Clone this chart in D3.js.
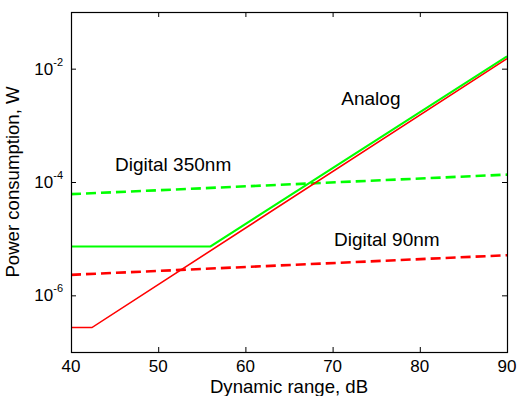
<!DOCTYPE html>
<html>
<head>
<meta charset="utf-8">
<script src="https://cdn.jsdelivr.net/npm/d3@7"></script>
<style>
  body { margin: 0; background: #fff; }
  svg { display: block; font-family: Arial, "Liberation Sans", sans-serif; }
</style>
</head>
<body>
<svg id="chart" width="518" height="396"></svg>
<script>
// data: [dynamic range dB, power W]
const analog350 = [[40, 7.3e-6], [56, 7.3e-6], [90, 1.65e-2]];
const analog90 = [[40, 2.7e-7], [42.4, 2.7e-7], [90, 1.5e-2]];
const digital350 = [[40, 6.1e-5], [90, 1.35e-4]];
const digital90 = [[40, 2.3e-6], [90, 5.1e-6]];
const xTicks = [40, 50, 60, 70, 80, 90];
const yTicks = [1e-6, 1e-4, 1e-2];

const margin = { top: 12, right: 11, bottom: 44, left: 71 };
const width = 518, height = 396;
const svg = d3.select('#chart');

const x = d3.scaleLinear().domain([40, 90]).range([margin.left, width - margin.right]);
const y = d3.scaleLog().domain([1e-7, 1e-1]).range([height - margin.bottom, margin.top]);

const line = d3.line().x((d) => x(d[0])).y((d) => y(d[1]));

// series
const series = [
  { data: digital350, color: '#00ff00', width: 2.6, dash: '10,5' },
  { data: digital90, color: '#ff0000', width: 2.6, dash: '10,5' },
  { data: analog350, color: '#00ff00', width: 2, dash: null },
  { data: analog90, color: '#ff0000', width: 1.6, dash: null },
];
svg.append('g')
  .selectAll('path')
  .data(series)
  .enter()
  .append('path')
  .attr('d', (s) => line(s.data))
  .attr('fill', 'none')
  .attr('stroke', (s) => s.color)
  .attr('stroke-width', (s) => s.width)
  .attr('stroke-dasharray', (s) => s.dash);

// frame + inward ticks on all sides
const x0 = x.range()[0], x1 = x.range()[1];
const y0 = y.range()[0], y1 = y.range()[1];
const tickLen = 5;

svg.append('g')
  .attr('transform', `translate(0,${y0})`)
  .call(d3.axisBottom(x).tickValues(xTicks).tickSizeInner(-tickLen).tickSizeOuter(0).tickFormat(''))
  .call((g) => g.select('.domain').remove());
svg.append('g')
  .attr('transform', `translate(0,${y1})`)
  .call(d3.axisTop(x).tickValues(xTicks).tickSizeInner(-tickLen).tickSizeOuter(0).tickFormat(''))
  .call((g) => g.select('.domain').remove());
svg.append('g')
  .attr('transform', `translate(${x0},0)`)
  .call(d3.axisLeft(y).tickValues(yTicks).tickSizeInner(-tickLen).tickSizeOuter(0).tickFormat(''))
  .call((g) => g.select('.domain').remove());
svg.append('g')
  .attr('transform', `translate(${x1},0)`)
  .call(d3.axisRight(y).tickValues(yTicks).tickSizeInner(-tickLen).tickSizeOuter(0).tickFormat(''))
  .call((g) => g.select('.domain').remove());

svg.selectAll('.tick line').attr('stroke', '#000').attr('stroke-width', 1);

svg.append('rect')
  .attr('x', x0 + 0.5)
  .attr('y', y1 + 0.5)
  .attr('width', x1 - x0)
  .attr('height', y0 - y1)
  .attr('fill', 'none')
  .attr('stroke', '#000')
  .attr('stroke-width', 1.2);

// x tick labels
svg.append('g')
  .selectAll('text')
  .data(xTicks)
  .enter()
  .append('text')
  .attr('x', (d) => x(d))
  .attr('y', y0 + 20)
  .attr('text-anchor', 'middle')
  .attr('font-size', 17)
  .attr('fill', '#000')
  .text((d) => d);

// y tick labels 10^n
const yLab = svg.append('g')
  .selectAll('text')
  .data(yTicks)
  .enter()
  .append('text')
  .attr('x', x0 - 8)
  .attr('y', (d) => y(d) + 6)
  .attr('text-anchor', 'end')
  .attr('font-size', 17)
  .attr('fill', '#000');
yLab.append('tspan').text('10');
yLab.append('tspan')
  .attr('dy', -9)
  .attr('font-size', 11)
  .text((d) => Math.round(Math.log10(d)));

// axis titles
svg.append('text')
  .attr('x', (x0 + x1) / 2)
  .attr('y', 393)
  .attr('text-anchor', 'middle')
  .attr('font-size', 18.6)
  .text('Dynamic range, dB');

svg.append('text')
  .attr('transform', `translate(19,${(y0 + y1) / 2}) rotate(-90)`)
  .attr('text-anchor', 'middle')
  .attr('font-size', 18.6)
  .text('Power consumption, W');

// annotations
const notes = [
  { text: 'Analog', dr: 71, p: 2.3e-3 },
  { text: 'Digital 350nm', dr: 45.05, p: 1.58e-4 },
  { text: 'Digital 90nm', dr: 70.16, p: 7.5e-6 },
];
svg.append('g')
  .selectAll('text')
  .data(notes)
  .enter()
  .append('text')
  .attr('x', (d) => x(d.dr))
  .attr('y', (d) => y(d.p))
  .attr('font-size', 19)
  .attr('text-anchor', 'start')
  .text((d) => d.text);
</script>
</body>
</html>
